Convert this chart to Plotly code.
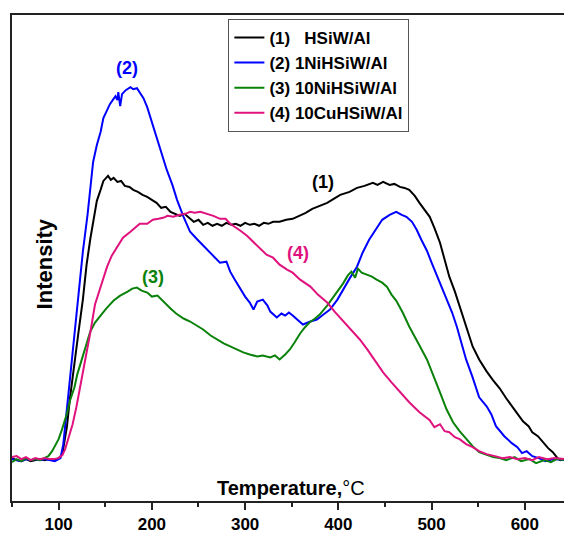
import plotly.graph_objects as go

# ---------------- data ----------------
T_black = [50,55,60,65,70,75,80,85,90,95,100,104,109,112,116,121,126,130,134,138,141,145,148,151,153,156,159,163,167,171,176,180,185,190,195,200,205,210,215,220,225,230,235,240,245,250,255,260,265,270,275,280,285,290,295,300,305,310,315,320,325,330,337,344,351,358,365,372,380,388,395,402,412,420,428,437,442,448,455,460,466,471,476,482,487,492,498,503,509,514,519,525,530,537,544,551,559,566,573,580,587,591,598,604,608,614,619,625,630,635,638,642]
I_black = [43,41,40,42,40,41,42,41,42,41,43,47,75,102,133,167,202,237,263,284,301,312,321,324,326,322,324,320,321,316,315,312,310,307,305,302,299,294,295,290,288,286,288,284,280,282,277,279,276,278,276,279,277,278,276,279,277,278,276,279,278,280,280,282,283,286,289,293,296,299,303,307,310,314,316,319,317,320,317,318,315,314,312,306,299,293,285,274,259,242,225,210,195,175,155,142,130,121,113,103,94,89,80,75,69,65,59,53,49,43,41,42]

T_blue = [50,55,60,65,70,75,80,85,90,96,102,105,107,110,114,117,120,123,126,131,134,137,141,145,148,152,155,158,161,163,164,166,168,169,172,177,180,184,187,191,195,200,206,211,216,222,227,234,241,249,255,259,266,273,280,284,289,295,300,305,309,313,319,324,327,334,339,343,347,351,357,362,370,377,384,391,399,405,412,420,426,433,441,447,455,462,468,473,479,484,489,495,500,506,511,516,522,527,532,537,544,551,559,564,569,578,586,592,597,602,608,615,622,631,642]
I_blue = [42,41,40,42,41,42,41,42,41,40,43,57,75,102,142,169,195,222,250,287,317,340,357,370,384,392,398,402,406,402,410,396,408,409,412,415,413,414,410,404,395,380,362,347,332,317,302,285,270,262,256,252,245,239,240,230,222,212,205,199,192,200,202,196,190,184,188,186,189,186,181,177,180,182,187,192,202,212,223,235,249,262,274,282,287,290,287,285,280,272,262,251,239,225,213,202,189,175,158,142,124,104,95,87,75,65,58,54,48,50,45,43,40,42,41]

T_green = [50,55,60,65,70,75,80,85,89,93,96,100,103,106,109,112,117,120,124,128,131,134,139,145,151,159,166,174,179,184,189,195,200,206,212,220,226,234,241,249,255,263,270,277,284,291,298,305,313,319,327,332,337,343,348,353,359,364,369,375,380,388,394,400,405,410,414,418,421,425,431,436,441,447,452,457,462,469,476,482,487,495,501,509,516,523,530,537,544,551,559,566,573,580,589,596,605,612,621,628,634,642]
I_green = [39,42,40,43,41,42,41,43,45,50,55,62,70,78,88,100,114,127,140,152,162,170,179,186,193,201,206,210,213,214,211,209,205,206,200,193,188,183,180,175,172,166,162,158,155,152,149,147,145,146,144,146,142,147,152,159,168,174,179,183,187,196,204,211,218,226,230,224,233,229,227,225,222,219,215,207,201,189,175,164,156,142,127,109,92,79,70,62,55,49,46,44,43,41,44,40,42,38,41,39,42,41]

T_pink = [50,55,60,65,70,75,80,85,90,95,100,104,107,110,115,119,123,129,134,139,145,149,152,157,163,169,177,182,187,195,201,207,212,217,223,230,236,241,246,252,259,266,273,279,284,289,295,302,309,316,323,330,337,345,351,359,364,370,378,388,396,405,414,423,431,439,448,457,466,476,487,498,503,509,514,519,525,530,537,544,551,559,568,576,584,592,600,608,615,624,632,642]
I_pink = [44,45,42,44,41,43,42,43,42,42,43,46,52,62,77,94,114,140,169,197,215,227,235,246,255,264,270,274,278,278,282,283,284,286,285,287,288,290,289,290,288,286,283,283,278,275,271,266,260,254,247,244,237,232,229,222,219,215,207,199,190,181,171,162,152,141,129,119,109,99,89,81,74,77,70,69,64,62,57,54,50,47,45,43,44,42,43,41,44,42,43,42]

names = ["(1)\u00a0\u00a0\u00a0HSiW/Al", "(2) 1NiHSiW/Al", "(3) 10NiHSiW/Al", "(4) 10CuHSiW/Al"]
colors = ["#000000", "#0000ff", "#0a820a", "#e0127e"]

x_ticks = [100, 200, 300, 400, 500, 600]

# peak labels
lab_text = ["(1)", "(2)", "(3)", "(4)"]
lab_x = [384, 173, 201, 357]
lab_y = [320, 434, 225, 249]

FONT = "Arial, Liberation Sans, sans-serif"

fig = go.Figure()
series = [(T_black, I_black), (T_blue, I_blue), (T_green, I_green), (T_pink, I_pink)]
for (tx, iy), nm, c in zip(series, names, colors):
    fig.add_trace(go.Scatter(x=tx, y=iy, mode="lines", name=nm,
                             line=dict(color=c, width=2)))

for t, xx, yy, c in zip(lab_text, lab_x, lab_y, colors):
    fig.add_annotation(x=xx, y=yy, text="<b>%s</b>" % t, showarrow=False,
                       font=dict(family=FONT, size=18, color=c))

fig.add_annotation(x=349, y=13, text="<b>Temperature,</b>°C", showarrow=False,
                   font=dict(family=FONT, size=20, color="black"))
fig.add_annotation(xref="paper", x=0.033, y=238, text="<b>Intensity</b>", textangle=-90,
                   showarrow=False, font=dict(family=FONT, size=22, color="black"))

fig.update_xaxes(range=[50, 642], tickvals=x_ticks, ticks="outside", ticklen=7,
                 tickwidth=1.5, tickcolor="#222",
                 minor=dict(dtick=50, tick0=50, ticks="outside", ticklen=4, tickwidth=1.5, tickcolor="#222"),
                 showline=True, linewidth=2, linecolor="#222", mirror=True,
                 showgrid=False, zeroline=False,
                 tickfont=dict(family=FONT, size=17, color="black", weight="bold"))
fig.update_yaxes(range=[0, 487.4], showticklabels=False, ticks="", showline=True,
                 linewidth=2, linecolor="#222", showgrid=False, zeroline=False)

fig.update_layout(
    width=564, height=533,
    margin=dict(l=12, r=0, t=15, b=32),
    paper_bgcolor="white", plot_bgcolor="white",
    showlegend=True,
    legend=dict(x=0.392, y=0.992, xanchor="left", yanchor="top",
                bordercolor="#555", borderwidth=1, bgcolor="white",
                font=dict(family=FONT, size=17, color="black", weight="bold"),
                itemwidth=30),
)

fig.write_html("out.html")
